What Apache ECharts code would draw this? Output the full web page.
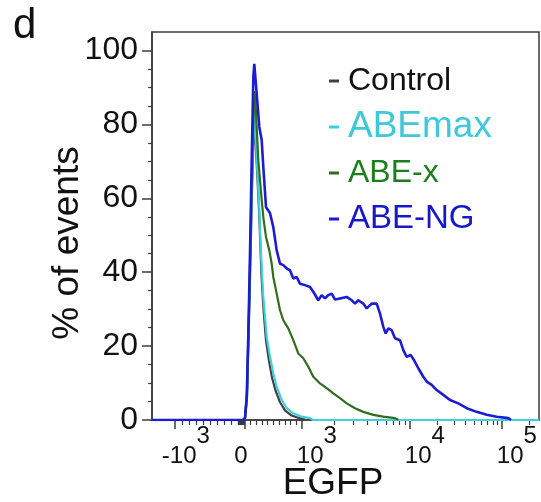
<!DOCTYPE html>
<html>
<head>
<meta charset="utf-8">
<title>EGFP histogram</title>
<script src="https://cdn.jsdelivr.net/npm/echarts@6.0.0/dist/echarts.min.js"></script>
<style>
    html, body { margin: 0; padding: 0; background: #fff; }
    #main { width: 541px; height: 502px; }
</style>
</head>
<body>
<div id="main"></div>
<script>
    // x = display channel (0..1000 across the plot, biexponential EGFP scale), y = % of events
    var seriesNames = ['Control', 'ABEmax', 'ABE-x', 'ABE-NG'];

    var control = [[235.1,0],[240.3,0.5],[245.5,6],[253.2,38],[258.4,62],[264.3,84],[268.7,73],[273.1,64],
        [277.3,55],[280.4,46],[283.0,39],[286.8,32],[290.7,26.5],[294.6,21.5],[302.3,16],[310.1,11.5],
        [319.1,8],[330.8,4.8],[343.7,2.6],[359.2,1.3],[377.3,0.6],[392.8,0.2],[397.9,0]];

    var abeMax = [[235.1,0],[240.3,0.5],[245.5,7],[253.2,40],[258.4,65],[264.3,86],[268.7,74.8],[273.1,65.8],
        [277.3,56.8],[280.4,48],[283.5,41],[287.6,33.3],[292.0,27.9],[296.4,22.5],[304.9,17.1],[313.4,12.6],
        [322.2,9],[335.1,5.4],[348.1,3.2],[365.1,1.8],[386.8,0.9],[408.3,0.5],[416.0,0],[1000,0]];

    var abeX = [[235.1,0],[240.3,0.5],[245.5,8],[253.2,42],[258.4,68],[264.3,89],[267.4,86],[270.5,79.3],
        [274.7,70.3],[279.1,64.9],[283.5,59.5],[288.1,54.5],[294.6,49.5],[303.1,45.9],[309.3,42.3],[313.4,38.7],
        [322.2,34.2],[330.8,29.7],[339.3,27],[352.2,24.8],[365.1,21.6],[378.0,18],[391.0,16.7],[403.9,14.4],
        [416.8,11.7],[434.1,9.9],[451.4,8.6],[468.5,7.2],[485.8,5.9],[503.1,4.5],[524.6,3.2],[546.0,2.2],
        [571.8,1.4],[597.7,0.9],[627.9,0.5],[636.4,0.1]];

    var abeNG = [[0,0],[235.1,0],[240.3,0.5],[244.7,6],[249.4,25],[253.2,45],[257.6,70],[261.8,92.8],[264.3,96.4],
        [270.5,88.3],[277.3,79.3],[283.5,75.7],[287.6,68.5],[294.6,57.6],[304.9,56],[313.4,52.2],[322.2,45.9],
        [330.8,42.3],[339.3,41.9],[348.1,41],[356.6,40.5],[365.1,38.3],[373.9,38.7],[382.4,36.9],[395.4,36.5],
        [408.3,36],[416.8,34.7],[429.7,32.4],[438.5,33.8],[447.0,32.9],[455.6,33.8],[464.3,34.2],[472.9,32.6],
        [485.8,32.9],[503.1,33.3],[516.0,32.4],[524.6,31.5],[533.1,32.4],[546.0,31.5],[554.8,30.2],[567.7,31.5],
        [580.6,31.5],[589.2,28.8],[597.7,25.2],[603.9,23.4],[610.6,24.8],[619.4,24.3],[627.9,22.1],[640.8,21.6],
        [649.4,18.9],[658.1,17.1],[668.5,17.6],[677.0,16.2],[688.1,14],[701.0,11.7],[709.8,10.4],[722.7,9.5],
        [735.7,8.1],[752.7,6.8],[770.0,5.4],[791.5,4.5],[813.2,3.2],[839.0,2.2],[864.9,1.4],[890.7,0.9],
        [920.7,0.5],[927.7,0]];

    // x tick marks, in EGFP units
    var majorTickEGFP = [-1000, 0, 1000, 10000, 100000];
    var tickBase = ['-10', '0', '10', '10', '10'];
    var tickExp = ['3', '', '3', '4', '5'];
    var minorTickEGFP = [-900,-800,-700,-600,-500,-400,-300,-200,-100,
        -90,-80,-70,-60,-50,-40,-30,-20,-10,
        100,200,300,400,500,600,700,800,900,
        2000,3000,4000,5000,6000,7000,8000,9000,
        20000,30000,40000,50000,60000,70000,80000,90000,200000];

    var yTicks = [0, 20, 40, 60, 80, 100];
    var yMinorTicks = [5,10,15,25,30,35,45,50,55,65,70,75,85,90,95];

    // biexponential display transform (EGFP -> channel)
    function toChannel(v) {
        if (v < 0) return 240 + v * 0.181;
        if (v <= 1000) return 240 + v * 0.1473;
        if (v <= 10000) return 387.3 + 279 * Math.log10(v / 1000);
        return 666.4 + 237.7 * Math.log10(v / 10000);
    }
    var majorCh = majorTickEGFP.map(toChannel);
    var minorCh = minorTickEGFP.map(toChannel);

    var font = 'Liberation Sans, Arial, sans-serif';
    var lineColors = ['#404040', '#3fd0e0', '#2e6e1c', '#1c1cd2'];
    var textColors = ['#111111', '#3fc8d8', '#1e7d1e', '#1818c8'];
    var legendSizes = [32, 37, 32, 33];

    var myChart = echarts.init(document.getElementById('main'));
    var option = {
        animation: false,
        backgroundColor: '#fff',
        title: {
            text: 'd',
            left: 8,
            top: 0,
            textStyle: { fontSize: 42, fontWeight: 'normal', fontFamily: font, color: '#111' }
        },
        legend: {
            orient: 'vertical',
            left: 329,
            top: 58,
            padding: 0,
            itemGap: 0,
            icon: 'rect',
            itemWidth: 10,
            itemHeight: 3,
            selectedMode: false,
            textStyle: { fontFamily: font, lineHeight: 46, padding: [0, 0, 0, 4] },
            data: seriesNames.map(function (n, i) {
                return { name: n, textStyle: { color: textColors[i], fontSize: legendSizes[i] } };
            })
        },
        grid: {
            left: 152, right: 2, top: 32, bottom: 82,
            show: true,
            borderColor: '#3c3c3c',
            borderWidth: 1.5,
            outerBoundsMode: 'none'
        },
        xAxis: [{
            type: 'value',
            min: 0,
            max: 1000,
            name: 'EGFP',
            nameLocation: 'middle',
            nameGap: 45,
            nameMoveOverlap: false,
            nameTextStyle: { fontFamily: font, fontSize: 37, color: '#111', padding: [0, 25, 0, 0] },
            axisLine: { lineStyle: { color: '#3c3c3c', width: 1.5 } },
            axisTick: { customValues: majorCh, length: 9, lineStyle: { color: '#3c3c3c', width: 1.5 } },
            splitLine: { show: false },
            axisLabel: {
                customValues: majorCh,
                margin: 4,
                formatter: function (val) {
                    var i = 0;
                    for (var k = 0; k < majorCh.length; k++) {
                        if (Math.abs(majorCh[k] - val) < 0.5) { i = k; break; }
                    }
                    if (!tickExp[i]) return '{b|' + tickBase[i] + '}{q|}';
                    var pad = tickBase[i].charAt(0) === '-' ? 'p22' : 'p30';
                    return '{' + pad + '|}{b|' + tickBase[i] + '}{s|' + tickExp[i] + '}';
                },
                rich: {
                    b: { fontFamily: font, fontSize: 24, color: '#111', lineHeight: 44, verticalAlign: 'bottom' },
                    s: { fontFamily: font, fontSize: 24, color: '#111', verticalAlign: 'top' },
                    p30: { width: 30, fontSize: 24, lineHeight: 44 },
                    p22: { width: 22, fontSize: 24, lineHeight: 44 },
                    q: { width: 8, fontSize: 24, lineHeight: 44 }
                }
            }
        }, {
            type: 'value',
            min: 0,
            max: 1000,
            position: 'bottom',
            axisLine: { show: false },
            axisTick: { customValues: minorCh, length: 5, lineStyle: { color: '#3c3c3c', width: 1.2 } },
            axisLabel: { show: false },
            splitLine: { show: false }
        }],
        yAxis: [{
            type: 'value',
            min: 0,
            max: 105,
            name: '% of events',
            nameLocation: 'middle',
            nameGap: 66,
            nameMoveOverlap: false,
            nameTextStyle: { fontFamily: font, fontSize: 37, color: '#111', padding: [0, 34, 0, 0] },
            axisLine: { show: true, lineStyle: { color: '#3c3c3c', width: 1.5 } },
            axisTick: { show: true, customValues: yTicks, length: 10, lineStyle: { color: '#3c3c3c', width: 1.5 } },
            splitLine: { show: false },
            axisLabel: { customValues: yTicks, margin: 14, fontFamily: font, fontSize: 32, color: '#111' }
        }, {
            type: 'value',
            min: 0,
            max: 105,
            position: 'left',
            axisLine: { show: false },
            axisTick: { show: true, customValues: yMinorTicks, length: 4, lineStyle: { color: '#3c3c3c', width: 1.2 } },
            axisLabel: { show: false },
            splitLine: { show: false }
        }],
        series: [control, abeMax, abeX, abeNG].map(function (d, i) {
            return {
                name: seriesNames[i],
                type: 'line',
                data: d,
                showSymbol: false,
                symbol: 'none',
                color: lineColors[i],
                lineStyle: { width: i === 3 ? 2.6 : 2.2, color: lineColors[i] }
            };
        })
    };

    myChart.setOption(option);
</script>
</body>
</html>
